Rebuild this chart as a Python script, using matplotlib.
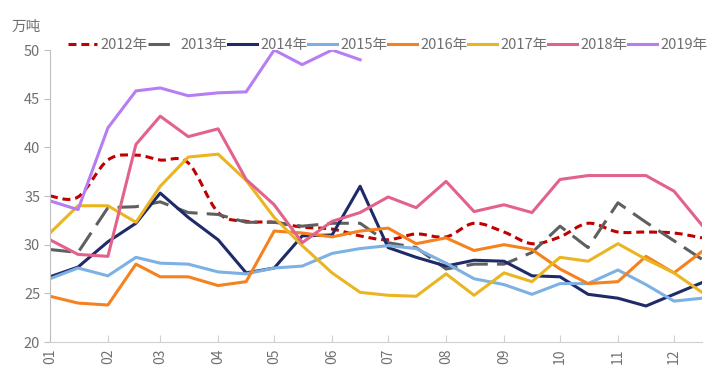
import numpy as np
import pandas as pd
import matplotlib
matplotlib.use("Agg")
import matplotlib.pyplot as plt
import matplotlib.dates as mdates
from matplotlib.path import Path
from matplotlib.patches import PathPatch
from matplotlib.lines import Line2D

plt.rcParams['font.family'] = ['Noto Sans CJK SC', 'DejaVu Sans']

# semi-monthly dates (1st and 16th of each month)
dates = pd.to_datetime(["2019-%02d-%02d" % (m, d) for m in range(1, 13) for d in (1, 16)])

y2012 = [35.0, 34.9, 38.7, 39.2, 38.7, 38.4, 33.3, 32.4, 32.3, 31.8, 31.6, 30.9,
         30.5, 31.1, 30.8, 32.2, 31.3, 30.1, 30.8, 32.2, 31.3, 31.3, 31.2, 30.7]
y2013 = [29.5, 29.2, 33.8, 33.9, 34.4, 33.3, 33.1, 32.3, 32.3, 31.9, 32.2, 32.2,
         30.2, 29.7, 27.5, 28.0, 28.0, 29.2, 31.9, 29.7, 34.3, 32.3, 30.4, 28.5]
y2014 = [26.7, 27.7, 30.3, 32.2, 35.3, 32.8, 30.5, 27.1, 27.6, 30.9, 31.0, 36.0,
         29.7, 28.7, 27.8, 28.4, 28.3, 26.8, 26.7, 24.9, 24.5, 23.7, 24.9, 26.1]
y2015 = [26.5, 27.6, 26.8, 28.7, 28.1, 28.0, 27.2, 27.0, 27.6, 27.8, 29.1, 29.6,
         29.9, 29.6, 28.1, 26.5, 25.9, 24.9, 26.0, 26.0, 27.4, 25.9, 24.2, 24.5]
y2016 = [24.7, 24.0, 23.8, 28.0, 26.7, 26.7, 25.8, 26.2, 31.4, 31.2, 30.8, 31.4,
         31.7, 30.1, 30.7, 29.4, 30.0, 29.5, 27.5, 26.0, 26.2, 28.8, 27.1, 29.3]
y2017 = [31.2, 34.0, 34.0, 32.3, 36.0, 39.0, 39.3, 36.6, 32.8, 29.9, 27.1, 25.1,
         24.8, 24.7, 27.0, 24.8, 27.1, 26.2, 28.7, 28.3, 30.1, 28.5, 27.1, 25.1]
y2018 = [30.5, 29.0, 28.8, 40.3, 43.2, 41.1, 41.9, 36.7, 34.1, 30.2, 32.4, 33.3,
         34.9, 33.8, 36.5, 33.4, 34.1, 33.3, 36.7, 37.1, 37.1, 37.1, 35.5, 32.0]
y2019 = [34.5, 33.6, 42.0, 45.8, 46.1, 45.3, 45.6, 45.7, 50.0, 48.5, 50.0, 49.0]

labels = ["2012年", "2013年", "2014年", "2015年", "2016年", "2017年", "2018年", "2019年"]
colors = ["#C00000", "#5F5F5F", "#1F2A68", "#7DB1E3", "#F5821F", "#EBB521", "#E2628C", "#B77DF2"]
series = [y2012, y2013, y2014, y2015, y2016, y2017, y2018, y2019]

lw = 2.2
styles = [(0, (2.6, 1.6)), (0, (7, 3)), "-", "-", "-", "-", "-", "-"]


def smooth_path(x, y):
    # Bezier curve through the points (like Excel's smoothed line)
    pts = np.column_stack([x, y])
    n = len(pts)
    verts = [pts[0]]
    codes = [Path.MOVETO]
    for i in range(n - 1):
        p0 = pts[max(i - 1, 0)]
        p1 = pts[i]
        p2 = pts[i + 1]
        p3 = pts[min(i + 2, n - 1)]
        verts += [p1 + (p2 - p0) / 6, p2 - (p3 - p1) / 6, p2]
        codes += [Path.CURVE4] * 3
    return Path(verts, codes)


fig = plt.figure(figsize=(7.12, 3.8), dpi=100)
ax = fig.add_axes([50 / 712, 1 - 342 / 380, 652 / 712, 292 / 380])

xnum = mdates.date2num(dates)
handles = []
for i, (lab, vals, col, ls) in enumerate(zip(labels, series, colors, styles)):
    if i == 0:
        patch = PathPatch(smooth_path(xnum[:len(vals)], vals), fill=False,
                          edgecolor=col, lw=lw, linestyle=ls)
        ax.add_patch(patch)
    else:
        ax.plot(dates[:len(vals)], vals, color=col, lw=lw, linestyle=ls)
    handles.append(Line2D([], [], color=col, lw=lw, linestyle=ls))

ax.set_ylim(20, 50)
ax.set_yticks([20, 25, 30, 35, 40, 45, 50])
ax.set_xlim(dates[0], dates[-1])
ax.xaxis.set_major_locator(mdates.MonthLocator())
ax.xaxis.set_major_formatter(mdates.DateFormatter("%m"))

for s in ["top", "right"]:
    ax.spines[s].set_visible(False)
ax.spines["left"].set_color("#BFBFBF")
ax.spines["bottom"].set_color("#D0D0D0")
ax.tick_params(axis="y", direction="out", length=4, color="#BFBFBF",
               labelsize=10.5, labelcolor="#707070", pad=3)
ax.tick_params(axis="x", direction="in", length=5, color="#D0D0D0",
               labelsize=10, labelcolor="#707070", pad=5, labelrotation=90)

ax.legend(handles, labels, loc="center left", bbox_to_anchor=(0.027, 1.017),
          ncol=8, frameon=False, handlelength=2.0, handletextpad=0.25,
          columnspacing=0.0, fontsize=10.5, labelcolor="#707070",
          borderpad=0, borderaxespad=0)

fig.text(12 / 712, 1 - 27 / 380, "万吨", ha="left", va="center",
         fontsize=10.5, color="#707070")

fig.savefig("out.png", dpi=100)
